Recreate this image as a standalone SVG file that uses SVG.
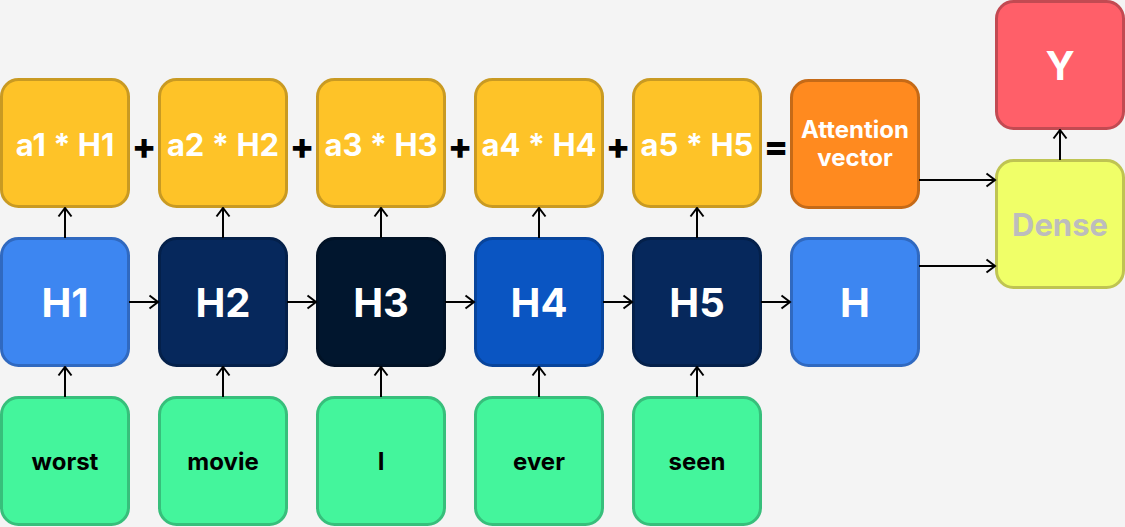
<svg xmlns="http://www.w3.org/2000/svg" width="1125" height="527" viewBox="0 0 1125 527">
<defs>
<marker id="arr" viewBox="0 0 12 16" markerWidth="12" markerHeight="16" refX="10.5" refY="8" orient="auto" markerUnits="userSpaceOnUse">
<path d="M2,1.5 L10.5,8 L2,14.5" fill="none" stroke="#000" stroke-width="2"/>
</marker>
<style>
text{font-family:Inter,"Liberation Sans",sans-serif;font-weight:700;text-anchor:middle}
.box{stroke-width:3}
.y{fill:#FEC328;stroke:#C99A22}
.g{fill:#44F59C;stroke:#37BF7B}
.w{fill:#fff}
.k{fill:#000}
.lbl28{font-size:31px}
.lbl40{font-size:40px}
.lbl22{font-size:24px}
.op{font-size:36px;font-weight:800}
.c line{stroke:#000;stroke-width:2;marker-end:url(#arr)}
</style>
</defs>
<rect width="1125" height="527" fill="#F4F4F4"/>

<g id="top-row">
<g id="a1H1"><rect class="box y" x="1.5" y="79.5" width="127" height="127" rx="17"/><text class="w lbl28" x="65" y="156">a1 * H1</text></g>
<g id="a2H2"><rect class="box y" x="159.5" y="79.5" width="127" height="127" rx="17"/><text class="w lbl28" x="223" y="156">a2 * H2</text></g>
<g id="a3H3"><rect class="box y" x="317.5" y="79.5" width="127" height="127" rx="17"/><text class="w lbl28" x="381" y="156">a3 * H3</text></g>
<g id="a4H4"><rect class="box y" x="475.5" y="79.5" width="127" height="127" rx="17"/><text class="w lbl28" x="539" y="156">a4 * H4</text></g>
<g id="a5H5"><rect class="box y" x="633.5" y="79.5" width="127" height="127" rx="17"/><text class="w lbl28" x="697" y="156">a5 * H5</text></g>
<g id="attention"><rect class="box" fill="#FF8A1F" stroke="#C56A17" x="791.5" y="80.5" width="127" height="127" rx="17"/><text class="w lbl22" x="855" y="138">Attention</text><text class="w lbl22" x="855" y="166">vector</text></g>
</g>

<g id="operators">
<text class="k op" x="144" y="159">+</text>
<text class="k op" x="302" y="159">+</text>
<text class="k op" x="460" y="159">+</text>
<text class="k op" x="618" y="159">+</text>
<text class="k op" x="776" y="159">=</text>
</g>

<g id="mid-row">
<g id="H1"><rect class="box" fill="#3D86F1" stroke="#3069C0" x="1.5" y="238.5" width="127" height="127" rx="17"/><text class="w lbl40" x="65" y="317">H1</text></g>
<g id="H2"><rect class="box" fill="#06285C" stroke="#04204A" x="159.5" y="238.5" width="127" height="127" rx="17"/><text class="w lbl40" x="223" y="317">H2</text></g>
<g id="H3"><rect class="box" fill="#01162E" stroke="#011226" x="317.5" y="238.5" width="127" height="127" rx="17"/><text class="w lbl40" x="381" y="317">H3</text></g>
<g id="H4"><rect class="box" fill="#0A55C2" stroke="#08449B" x="475.5" y="238.5" width="127" height="127" rx="17"/><text class="w lbl40" x="539" y="317">H4</text></g>
<g id="H5"><rect class="box" fill="#06285C" stroke="#04204A" x="633.5" y="238.5" width="127" height="127" rx="17"/><text class="w lbl40" x="697" y="317">H5</text></g>
<g id="H"><rect class="box" fill="#3D86F1" stroke="#3069C0" x="791.5" y="238.5" width="127" height="127" rx="17"/><text class="w lbl40" x="855" y="317">H</text></g>
</g>

<g id="bottom-row">
<g id="worst"><rect class="box g" x="1.5" y="397.5" width="127" height="127" rx="17"/><text class="k lbl22" x="65" y="470">worst</text></g>
<g id="movie"><rect class="box g" x="159.5" y="397.5" width="127" height="127" rx="17"/><text class="k lbl22" x="223" y="470">movie</text></g>
<g id="I"><rect class="box g" x="317.5" y="397.5" width="127" height="127" rx="17"/><text class="k lbl22" x="381" y="470">I</text></g>
<g id="ever"><rect class="box g" x="475.5" y="397.5" width="127" height="127" rx="17"/><text class="k lbl22" x="539" y="470">ever</text></g>
<g id="seen"><rect class="box g" x="633.5" y="397.5" width="127" height="127" rx="17"/><text class="k lbl22" x="697" y="470">seen</text></g>
</g>

<g id="Dense"><rect class="box" fill="#F0FF68" stroke="#BFC452" x="996.5" y="160.5" width="127" height="127" rx="17"/><text class="lbl28" fill="#BDBDBD" x="1060" y="236">Dense</text></g>
<g id="Y"><rect class="box" fill="#FF5F69" stroke="#C24A52" x="996.5" y="1.5" width="127" height="127" rx="17"/><text class="w lbl40" x="1060" y="80">Y</text></g>

<g id="connectors" class="c">
<line x1="65" y1="397" x2="65" y2="367"/>
<line x1="223" y1="397" x2="223" y2="367"/>
<line x1="381" y1="397" x2="381" y2="367"/>
<line x1="539" y1="397" x2="539" y2="367"/>
<line x1="697" y1="397" x2="697" y2="367"/>
<line x1="65" y1="238" x2="65" y2="208"/>
<line x1="223" y1="238" x2="223" y2="208"/>
<line x1="381" y1="238" x2="381" y2="208"/>
<line x1="539" y1="238" x2="539" y2="208"/>
<line x1="697" y1="238" x2="697" y2="208"/>
<line x1="129" y1="302" x2="158" y2="302"/>
<line x1="287" y1="302" x2="316" y2="302"/>
<line x1="445" y1="302" x2="474" y2="302"/>
<line x1="603" y1="302" x2="632" y2="302"/>
<line x1="761" y1="302" x2="790" y2="302"/>
<line x1="919" y1="180" x2="995" y2="180"/>
<line x1="919" y1="266" x2="995" y2="266"/>
<line x1="1060" y1="160" x2="1060" y2="130"/>
</g>
</svg>
